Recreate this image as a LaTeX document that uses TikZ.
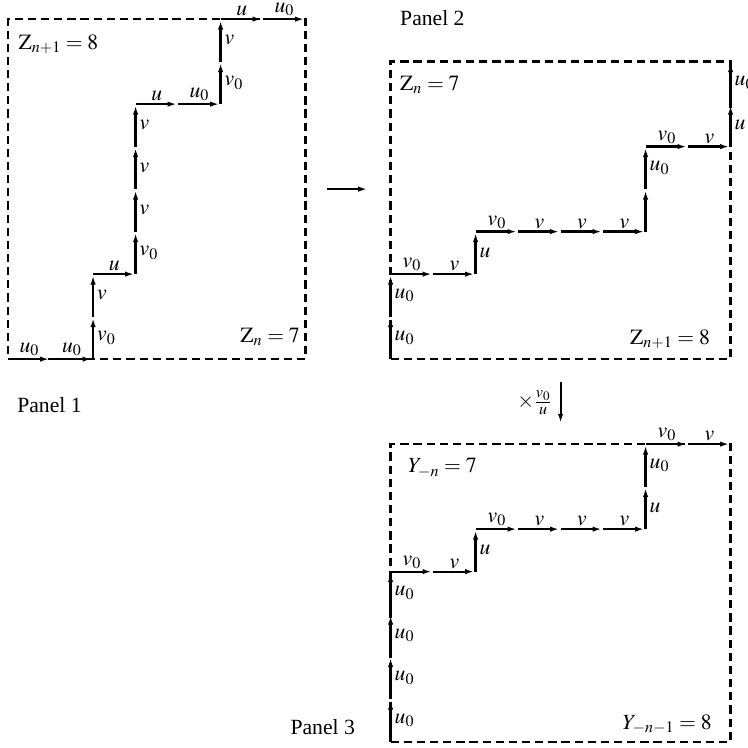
\documentclass[tikz,border=0pt]{standalone}
\usepackage{mathptmx}
\usepackage{fontspec}
\setmainfont{Liberation Serif}
\usetikzlibrary{arrows.meta}

\tikzset{
	every node/.style={font=\fontsize{14.5}{17}\selectfont},
	panelbox/.style={draw,dash pattern=on 5.5pt off 3.3pt,line width=1.5pt,inner sep=0pt,outer sep=0pt},
	pathedge/.style={line width=1.5pt,-{Latex[length=6pt,width=3.6pt]},shorten >=1pt},
	hlab/.style={above,inner sep=1.2pt},
	vlab/.style={right,inner sep=2pt},
	boxlab/.style={inner sep=0pt},
	maparrow/.style={line width=1.4pt,-{Latex[length=6pt,width=3.6pt]}}
}

\newcommand{\latticewalk}[3]{
	\coordinate (#1-0) at (#2);
	\foreach \d/\lab [count=\i, remember=\i as \j (initially 0)] in {#3} {
		\if\d h\def\dx{1}\def\dy{0}\def\labpos{hlab}\else\def\dx{0}\def\dy{1}\def\labpos{vlab}\fi
		\draw[pathedge] (#1-\j) -- node[\labpos] {$\lab$} ++(\dx,\dy) coordinate (#1-\i);
	}
}

\begin{document}
\begin{tikzpicture}
	\useasboundingbox (-0.19,-9.13) rectangle (17.41,8.45);

	\node[panelbox,minimum width=7cm,minimum height=8cm] (box1) at (3.5,4) {};
	\node[panelbox,minimum width=8cm,minimum height=7cm] (box2) at (13,3.5) {};
	\node[panelbox,minimum width=8cm,minimum height=7cm] (box3) at (13,-5.5) {};

	\latticewalk{p}{0,0}{h/u_0,h/u_0,v/v_0,v/v,h/u,v/v_0,v/v,v/v,v/v,h/u,h/u_0,v/v_0,v/v,h/u,h/u_0}
	\latticewalk{q}{9,0}{v/u_0,v/u_0,h/v_0,h/v,v/u,h/v_0,h/v,h/v,h/v,v/,v/u_0,h/v_0,h/v,v/u,v/u_0}
	\latticewalk{s}{9,-9}{v/u_0,v/u_0,v/u_0,v/u_0,h/v_0,h/v,v/u,h/v_0,h/v,h/v,h/v,v/u,v/u_0,h/v_0,h/v}

	\node[boxlab,anchor=west] (z1top) at (0.24,7.41) {$\mathrm{Z}_{n+1}=8$};
	\node[boxlab,anchor=east] (z1bot) at (6.87,0.52) {$\mathrm{Z}_{n}=7$};
	\node[boxlab,anchor=west] (z2top) at (9.22,6.45) {$\mathrm{Z}_{n}=7$};
	\node[boxlab,anchor=east] (z2bot) at (16.52,0.47) {$\mathrm{Z}_{n+1}=8$};
	\node[boxlab,anchor=west] (y3top) at (9.41,-2.56) {$Y_{-n}=7$};
	\node[boxlab,anchor=east] (y3bot) at (16.56,-8.6) {$Y_{-n-1}=8$};

	\node[boxlab,anchor=west] (title1) at (0.21,-1.08) {Panel 1};
	\node[boxlab,anchor=west] (title2) at (9.22,8.02) {Panel 2};
	\node[boxlab,anchor=west] (title3) at (6.64,-8.66) {Panel 3};

	\draw[maparrow] ([xshift=0.5cm]box1.east) -- ([xshift=-0.55cm]box1.east -| box2.west);
	\draw[maparrow] ([yshift=-0.55cm]box2.south) -- node[left,inner sep=5pt] {$\times\frac{v_0}{u}$} ([yshift=0.5cm]box3.north);
\end{tikzpicture}
\end{document}
